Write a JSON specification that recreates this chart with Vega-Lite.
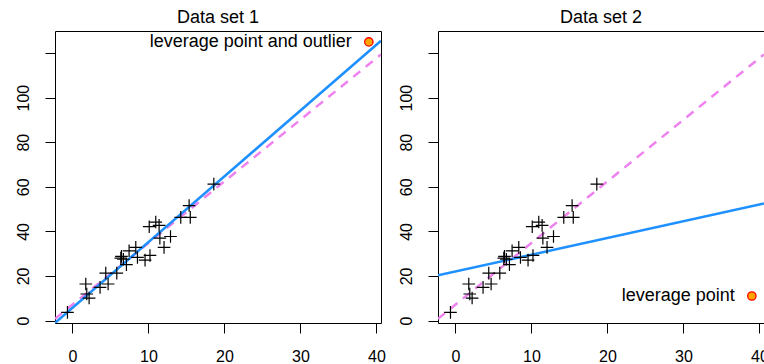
{
  "$schema": "https://vega.github.io/schema/vega-lite/v6.json",
  "padding": {"left": 14, "top": 8, "right": 0, "bottom": 0},
  "background": "white",
  "datasets": {
    "obs": [
      {"x": -0.66, "y": 3.7}, {"x": 1.75, "y": 16.4}, {"x": 1.88, "y": 11.9},
      {"x": 2.19, "y": 10.1}, {"x": 3.63, "y": 14.9}, {"x": 4.38, "y": 21.3},
      {"x": 4.69, "y": 16.4}, {"x": 5.83, "y": 21.3}, {"x": 6.36, "y": 28.0},
      {"x": 6.45, "y": 28.8}, {"x": 6.7, "y": 27.5}, {"x": 7.1, "y": 25.1},
      {"x": 7.45, "y": 31.3}, {"x": 8.33, "y": 32.8}, {"x": 8.55, "y": 28.3},
      {"x": 9.55, "y": 27.1}, {"x": 10.2, "y": 29.2}, {"x": 10.1, "y": 42.1},
      {"x": 10.96, "y": 44.2}, {"x": 11.4, "y": 42.7}, {"x": 11.5, "y": 37.0},
      {"x": 12.05, "y": 32.8}, {"x": 12.9, "y": 37.7}, {"x": 14.25, "y": 46.3},
      {"x": 15.35, "y": 51.6}, {"x": 15.5, "y": 46.3}, {"x": 18.6, "y": 61.2}
    ],
    "extra": [
      {"set": 1, "x": 39, "y": 125, "label": "leverage point and outlier"},
      {"set": 2, "x": 39, "y": 11, "label": "leverage point"}
    ],
    "fits": [
      {"set": 1, "fit": "true", "x": -2.3, "y": 0.8},
      {"set": 1, "fit": "true", "x": 40.6, "y": 119.4},
      {"set": 1, "fit": "ls", "x": -2.3, "y": -1.1},
      {"set": 1, "fit": "ls", "x": 40.6, "y": 125.5},
      {"set": 2, "fit": "true", "x": -2.3, "y": 0.8},
      {"set": 2, "fit": "true", "x": 40.6, "y": 119.4},
      {"set": 2, "fit": "ls", "x": -2.3, "y": 20.3},
      {"set": 2, "fit": "ls", "x": 40.6, "y": 52.5}
    ]
  },
  "hconcat": [
    {
      "width": 326,
      "height": 292,
      "title": {"text": "Data set 1"},
      "layer": [
        {
          "data": {"name": "fits"},
          "transform": [{"filter": "datum.set == 1 && datum.fit == 'true'"}],
          "mark": {"type": "line", "color": "#EE82EE", "strokeWidth": 2.5, "strokeDash": [9, 7], "clip": true},
          "encoding": {
            "x": {"field": "x", "type": "quantitative", "scale": {"domain": [-2.3, 40.6], "nice": false, "zero": false}, "axis": {"values": [0, 10, 20, 30, 40]}},
            "y": {"field": "y", "type": "quantitative", "scale": {"domain": [-1.1, 129.9], "nice": false, "zero": false}, "axis": {"values": [0, 20, 40, 60, 80, 100, 120], "labelExpr": "datum.value == 120 ? '' : datum.label"}}
          }
        },
        {
          "data": {"name": "fits"},
          "transform": [{"filter": "datum.set == 1 && datum.fit == 'ls'"}],
          "mark": {"type": "line", "color": "#1E90FF", "strokeWidth": 2.5, "clip": true},
          "encoding": {
            "x": {"field": "x", "type": "quantitative"},
            "y": {"field": "y", "type": "quantitative"}
          }
        },
        {
          "data": {"name": "obs"},
          "mark": {"type": "point", "shape": "M-1,0L1,0M0,-1L0,1", "size": 160, "filled": false, "stroke": "black", "strokeWidth": 1.2, "opacity": 1},
          "encoding": {
            "x": {"field": "x", "type": "quantitative"},
            "y": {"field": "y", "type": "quantitative"}
          }
        },
        {
          "data": {"name": "extra"},
          "transform": [{"filter": "datum.set == 1"}],
          "mark": {"type": "point", "shape": "circle", "size": 70, "filled": true, "fill": "#FFA500", "stroke": "#FF0000", "strokeWidth": 1.3, "opacity": 1},
          "encoding": {
            "x": {"field": "x", "type": "quantitative"},
            "y": {"field": "y", "type": "quantitative"}
          }
        },
        {
          "data": {"name": "extra"},
          "transform": [{"filter": "datum.set == 1"}],
          "mark": {"type": "text", "align": "right", "baseline": "middle", "dx": -17, "fontSize": 18, "color": "black"},
          "encoding": {
            "x": {"field": "x", "type": "quantitative"},
            "y": {"field": "y", "type": "quantitative"},
            "text": {"field": "label"}
          }
        }
      ]
    },
    {
      "width": 326,
      "height": 292,
      "title": {"text": "Data set 2"},
      "layer": [
        {
          "data": {"name": "fits"},
          "transform": [{"filter": "datum.set == 2 && datum.fit == 'true'"}],
          "mark": {"type": "line", "color": "#EE82EE", "strokeWidth": 2.5, "strokeDash": [9, 7], "clip": true},
          "encoding": {
            "x": {"field": "x", "type": "quantitative", "scale": {"domain": [-2.3, 40.6], "nice": false, "zero": false}, "axis": {"values": [0, 10, 20, 30, 40]}},
            "y": {"field": "y", "type": "quantitative", "scale": {"domain": [-1.1, 129.9], "nice": false, "zero": false}, "axis": {"values": [0, 20, 40, 60, 80, 100, 120], "labelExpr": "datum.value == 120 ? '' : datum.label"}}
          }
        },
        {
          "data": {"name": "fits"},
          "transform": [{"filter": "datum.set == 2 && datum.fit == 'ls'"}],
          "mark": {"type": "line", "color": "#1E90FF", "strokeWidth": 2.5, "clip": true},
          "encoding": {
            "x": {"field": "x", "type": "quantitative"},
            "y": {"field": "y", "type": "quantitative"}
          }
        },
        {
          "data": {"name": "obs"},
          "mark": {"type": "point", "shape": "M-1,0L1,0M0,-1L0,1", "size": 160, "filled": false, "stroke": "black", "strokeWidth": 1.2, "opacity": 1},
          "encoding": {
            "x": {"field": "x", "type": "quantitative"},
            "y": {"field": "y", "type": "quantitative"}
          }
        },
        {
          "data": {"name": "extra"},
          "transform": [{"filter": "datum.set == 2"}],
          "mark": {"type": "point", "shape": "circle", "size": 70, "filled": true, "fill": "#FFA500", "stroke": "#FF0000", "strokeWidth": 1.3, "opacity": 1},
          "encoding": {
            "x": {"field": "x", "type": "quantitative"},
            "y": {"field": "y", "type": "quantitative"}
          }
        },
        {
          "data": {"name": "extra"},
          "transform": [{"filter": "datum.set == 2"}],
          "mark": {"type": "text", "align": "right", "baseline": "middle", "dx": -17, "fontSize": 18, "color": "black"},
          "encoding": {
            "x": {"field": "x", "type": "quantitative"},
            "y": {"field": "y", "type": "quantitative"},
            "text": {"field": "label"}
          }
        }
      ]
    }
  ],
  "spacing": 57,
  "bounds": "flush",
  "config": {
    "font": "Liberation Sans",
    "view": {"stroke": "black", "strokeWidth": 1},
    "title": {"fontSize": 18, "fontWeight": "normal", "color": "black", "anchor": "middle", "baseline": "alphabetic", "offset": 4},
    "axis": {
      "title": null,
      "grid": false,
      "domain": false,
      "ticks": true,
      "tickColor": "black",
      "tickSize": 10,
      "tickWidth": 1,
      "labelFontSize": 16,
      "labelColor": "black",
      "labelOverlap": false,
      "labelFlush": false
    },
    "axisLeft": {"labelAngle": -90, "labelAlign": "center", "labelBaseline": "alphabetic", "labelPadding": 17},
    "axisBottom": {"labelBaseline": "top", "labelPadding": 15}
  }
}
